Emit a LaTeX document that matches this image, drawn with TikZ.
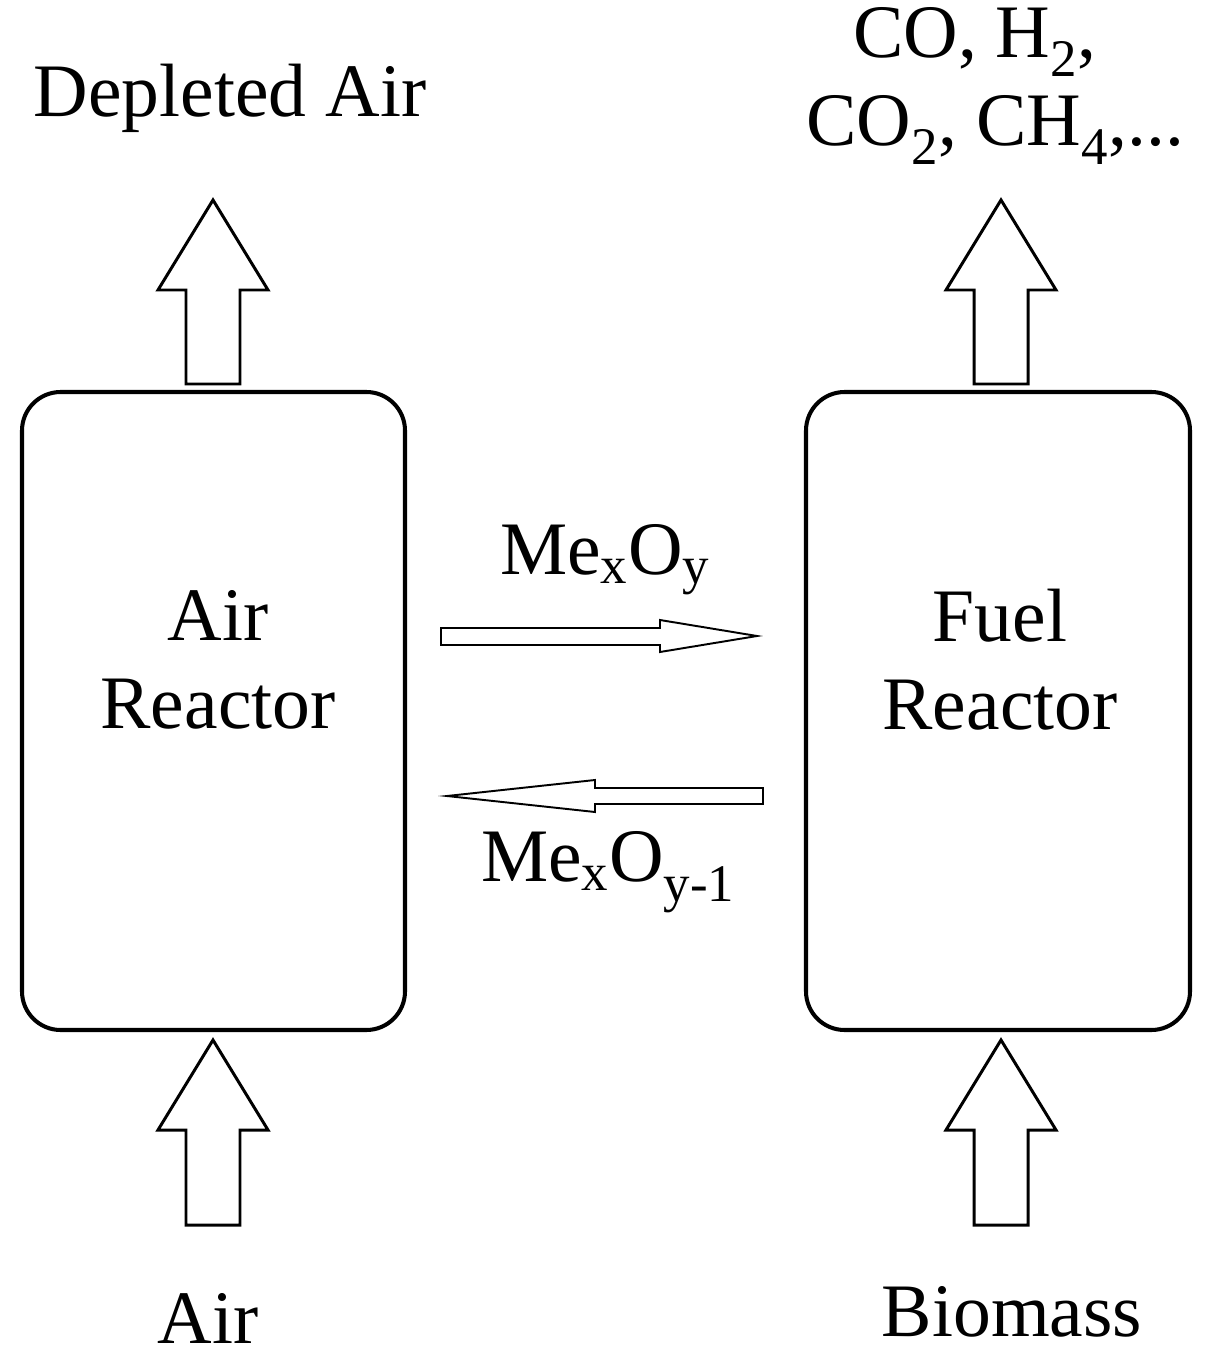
\documentclass[tikz,border=0pt]{standalone}
\usepackage{fontspec}
\setmainfont{Liberation Serif}
\begin{document}
\begin{tikzpicture}[x=0.02cm,y=-0.02cm]
    \tikzstyle{reactor}=[draw,line width=2.3pt,rounded corners=22pt]
    \tikzstyle{fat arrow}=[draw,line width=1.7pt,line join=miter]
    \tikzstyle{thin arrow}=[draw,line width=1.1pt,line join=miter]
    \tikzstyle{label}=[font=\fontsize{43}{50}\selectfont,align=center,inner sep=0pt]
    \useasboundingbox (0,0) rectangle (1225,1358);

    % reactors
    \draw[reactor] (22,392) rectangle (405,1030);
    \draw[reactor] (806,392) rectangle (1190,1030);
    \node[label] (AR) at (218,660) {Air\\Reactor};
    \node[label] (FR) at (1000,660) {Fuel\\Reactor};

    % block arrows in and out
    \foreach \cx/\yb/\yt in {213/384/200, 1001/384/200, 213/1225/1040, 1001/1225/1040}
        \draw[fat arrow] (\cx-27,\yb) -- (\cx-27,\yt+90) -- (\cx-55,\yt+90) -- (\cx,\yt)
            -- (\cx+55,\yt+90) -- (\cx+27,\yt+90) -- (\cx+27,\yb) -- cycle;

    % solids transfer
    \draw[thin arrow] (441,628) -- (660,628) -- (660,620) -- (757,636) -- (660,652)
        -- (660,645) -- (441,645) -- cycle;
    \draw[thin arrow] (763,788) -- (595,788) -- (595,780) -- (447,796) -- (595,812)
        -- (595,804) -- (763,804) -- cycle;

    % Annotate the streams
    \node[label] (depl) at (230,98) {Depleted Air};
    \node[label] (gas) at (975,42) {CO, H\textsubscript{2},};
    \node[label] (gas2) at (995,130) {CO\textsubscript{2}, CH\textsubscript{4},...};
    \node[label] (air) at (208,1318) {Air};
    \node[label] (bio) at (1012,1312) {Biomass};
    \node[label] (ox) at (605,560) {Me\textsubscript{x}O\textsubscript{y}};
    \node[label] (red) at (608,872) {Me\textsubscript{x}O\textsubscript{y-1}};
\end{tikzpicture}
\end{document}
